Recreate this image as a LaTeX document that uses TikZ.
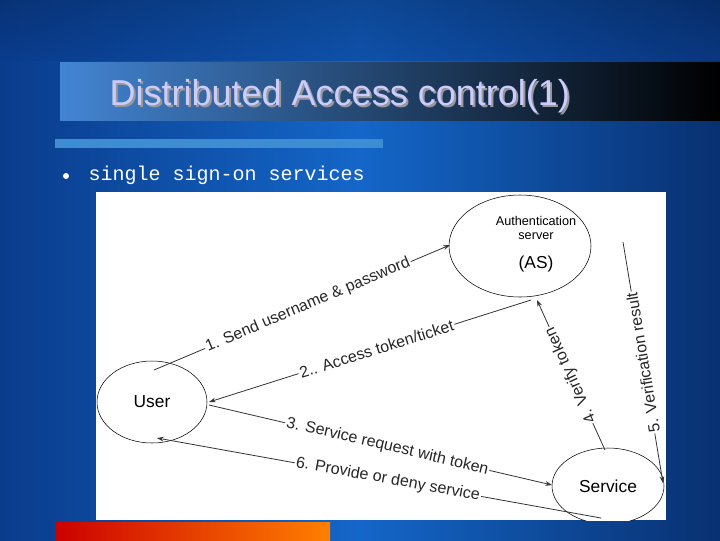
\documentclass[tikz,border=0pt]{standalone}
\usepackage{fontspec}
\setmainfont{Liberation Sans}
\newfontfamily\monof{Liberation Mono}
\usetikzlibrary{arrows.meta,shapes.geometric}
\definecolor{bgdark}{HTML}{0A3C8C}
\definecolor{bgmid}{HTML}{1466C8}
\tikzset{
  ell/.style={draw=black,ellipse,fill=white,inner sep=0pt},
  conn/.style={draw=black!80,line width=0.6pt,-{Stealth[length=5pt,width=3.5pt]}},
  lbl/.style={fill=white,inner sep=1pt,sloped,font=\fontsize{12pt}{13pt}\selectfont,text=black!85},
}
\begin{document}
\begin{tikzpicture}[x=0.75pt,y=-0.75pt]
\useasboundingbox (0,0) rectangle (720,540);
\shade[left color=bgdark,right color=bgmid] (0,0) rectangle (360,540);
\shade[left color=bgmid,right color=bgdark!80!black] (360,0) rectangle (720,540);
\shade[top color=bgdark!70!black,bottom color=bgdark,opacity=0.5] (0,0) rectangle (720,60);
% title bar
\shade[left color=bgmid!80!white,right color=black] (60,62) rectangle (720,120);
\node[font=\fontsize{27pt}{30pt}\selectfont,text=black!40,anchor=west] (ttls) at (107,98) {Distributed Access control(1)};
\node[font=\fontsize{27pt}{30pt}\selectfont,text=white!80!blue,anchor=west] (ttl) at (105,96) {Distributed Access control(1)};
\fill[cyan!60!blue!80!white] (55,139) rectangle (383,148);
% bullet
\fill[white] (66,176) circle (3);
\node[font=\monof\fontsize{15pt}{16pt}\selectfont,text=white,anchor=west] (bul) at (84,175) {single sign-on services};
% bottom bar
\shade[left color=red!80!black,right color=orange] (55,522) rectangle (330,540);
% diagram
\begin{scope}
\clip (96,192) rectangle (666,520);
\fill[white] (96,192) rectangle (666,520);
\node[ell,minimum width=106.5pt,minimum height=76.5pt] (as) at (520,246) {};
\node[font=\fontsize{9.5pt}{10.5pt}\selectfont,align=center] (ast) at (536,228) {Authentication\\server};
\node[font=\fontsize{13pt}{14pt}\selectfont] (asl) at (536,264) {(AS)};
\node[ell,minimum width=82.5pt,minimum height=61.5pt,font=\fontsize{13pt}{14pt}\selectfont] (user) at (152,402) {User};
\node[ell,minimum width=84pt,minimum height=57pt,font=\fontsize{13pt}{14pt}\selectfont] (svc) at (608,486) {Service};
\coordinate (u1) at (154,370);
\coordinate (a1) at (450,245);
\coordinate (a2) at (531,300);
\coordinate (u2) at (209,402);
\coordinate (u3) at (209,405);
\coordinate (s3) at (552,485);
\coordinate (s4) at (605,450);
\coordinate (a4) at (537,300);
\coordinate (a5) at (623,242);
\coordinate (s5) at (663,483);
\coordinate (s6) at (601,518);
\coordinate (u6) at (157,438);
\draw[conn] (u1) -- node[lbl,pos=0.52]{1. Send username \& password} (a1);
\draw[conn,{Stealth[length=5pt,width=3.5pt]}-] (u2) -- node[lbl,pos=0.52]{2.. Access token/ticket} (a2);
\draw[conn] (u3) -- node[lbl,pos=0.52]{3. Service request with token} (s3);
\draw[conn] (s4) -- node[lbl,allow upside down,pos=0.5]{4. Verify token} (a4);
\draw[conn,{Stealth[length=5pt,width=3.5pt]}-] (s5) -- node[lbl,allow upside down,pos=0.5]{5. Verification result} (a5);
\draw[conn,{Stealth[length=5pt,width=3.5pt]}-] (u6) -- node[lbl,pos=0.52]{6. Provide or deny service} (s6);
\end{scope}
\end{tikzpicture}
\end{document}
